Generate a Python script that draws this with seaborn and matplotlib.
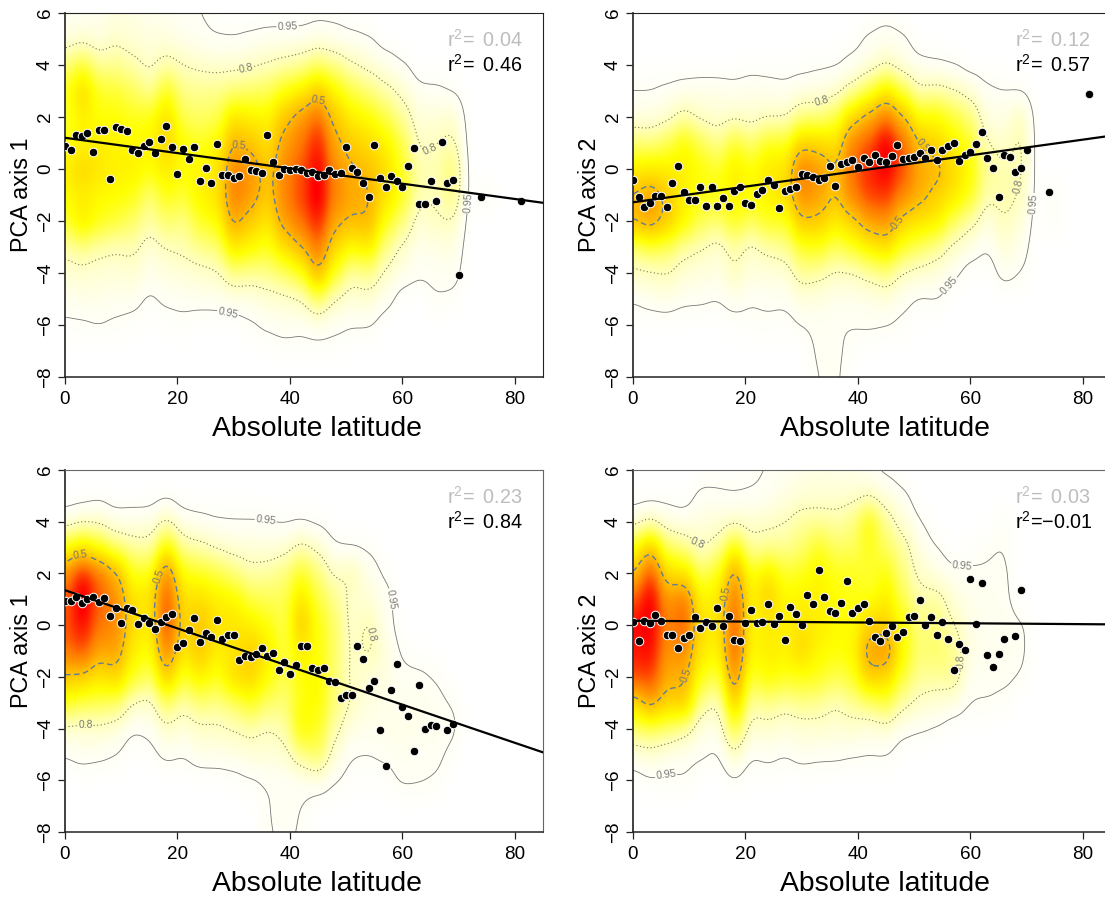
import numpy as np
import pandas as pd
import matplotlib
matplotlib.use("Agg")
import matplotlib.pyplot as plt
from matplotlib.colors import LinearSegmentedColormap
import seaborn as sns

# ---------- point data: integer latitudes and mean PCA scores ----------
lat_a = list(range(0, 71)) + [74, 81]
pts_1 = [0.9,0.75,1.3,1.28,1.4,0.65,1.5,1.5,-0.38,1.6,1.52,1.47,0.75,0.62,0.88,1.05,0.62,1.15,1.67,0.85,
         -0.18,0.78,0.38,0.85,-0.47,0.03,-0.53,0.97,-0.23,-0.23,-0.35,-0.27,0.4,-0.03,-0.07,-0.15,1.32,0.28,-0.22,0.0,
         -0.02,0.0,-0.02,-0.17,-0.1,-0.27,-0.23,-0.03,-0.18,-0.15,0.85,0.03,-0.1,-0.55,-1.08,0.92,-0.35,-0.68,-0.27,-0.47,
         -0.68,0.12,0.8,-1.35,-1.35,-0.47,-1.23,1.05,-0.55,-0.42,-4.08,-1.08,-1.22]
pts_2 = [-0.42,-1.07,-1.45,-1.3,-1.03,-1.03,-1.45,-0.53,0.12,-0.88,-1.2,-1.2,-0.68,-1.42,-0.68,-1.42,-1.1,-1.42,-0.85,-0.68,
         -1.3,-1.38,-0.95,-0.8,-0.42,-0.6,-1.5,-0.85,-0.77,-0.68,-0.18,-0.22,-0.3,-0.42,-0.35,0.12,-0.65,0.2,0.27,0.35,
         0.08,0.43,0.27,0.55,0.3,0.27,0.5,0.93,0.38,0.43,0.47,0.62,0.43,0.73,0.35,0.73,0.88,1.0,0.3,0.55,
         0.65,0.97,1.43,0.43,0.03,-1.08,0.55,0.47,-0.12,0.03,0.73,-0.88,2.9]
lat_b = list(range(0, 67)) + [68, 69]
pts_3 = [0.95,0.93,1.07,0.85,1.03,1.07,0.9,1.05,0.37,0.65,0.1,0.68,0.57,0.05,0.28,0.1,-0.13,0.13,0.33,0.42,
         -0.83,-0.68,-0.2,0.28,-0.65,-0.3,-0.47,0.2,-0.55,-0.4,-0.4,-1.33,-1.2,-1.25,-1.1,-0.9,-1.18,-1.07,-1.72,-1.42,
         -1.9,-1.53,-0.8,-0.8,-1.67,-1.75,-1.67,-2.15,-2.18,-2.83,-2.72,-2.72,-0.8,-1.3,-2.45,-2.15,-4.07,-5.45,-2.5,-1.5,
         -3.17,-3.5,-4.85,-2.3,-4.03,-3.87,-3.9,-4.07,-3.83]
pts_4 = [0.13,-0.6,0.17,0.1,0.4,0.17,-0.37,-0.37,-0.87,-0.5,-0.4,0.3,-0.1,0.13,-0.02,0.67,-0.03,0.37,-0.57,-0.6,
         0.1,0.58,0.1,0.13,0.83,0.05,0.37,-0.57,0.72,0.43,0.02,1.17,0.83,2.13,1.08,0.55,0.48,0.85,1.7,0.47,
         0.67,0.82,0.15,-0.45,-0.6,-0.3,-0.03,-0.45,-0.27,0.32,0.35,0.97,0.02,0.32,-0.37,0.13,-0.53,-1.72,-0.72,-0.95,
         1.78,0.05,1.62,-1.15,-1.6,-1.1,-0.53,-0.42,1.37]

# ---------- fitted lines, values at latitude 0 and 85 ----------
line_lat = [0, 85]
line_1 = [1.2, -1.3]
line_2 = [-1.28, 1.28]
line_3 = [1.35, -4.92]
line_4 = [0.17, 0.03]

# ---------- density: one column per 3 degrees, y = 6 ... -8 ----------
grid_lat = list(range(0, 78, 3))
grid_y = list(range(6, -9, -1))
dens_1 = [
 [4,6,20,30,28,30,40,34,28,14,8,5,2,0,0],
 [4,8,28,48,38,36,48,38,42,18,9,6,2,0,0],
 [4,7,16,30,32,38,42,34,32,14,8,6,3,0,0],
 [7,10,18,28,34,36,38,34,28,12,8,5,2,0,0],
 [6,8,14,24,30,36,38,32,22,14,9,5,1,0,0],
 [5,7,10,16,32,36,34,20,15,8,5,2,0,0,0],
 [4,8,14,32,44,48,40,32,22,12,7,4,1,0,0],
 [3,5,12,18,24,34,34,28,18,14,8,4,2,0,0],
 [3,4,10,18,22,30,36,38,30,18,9,5,0,0,0],
 [1,3,9,18,24,34,40,42,34,20,10,5,0,0,0],
 [0,3,9,20,42,58,70,72,62,42,18,6,0,0,0],
 [0,4,10,22,38,52,66,64,50,36,16,6,2,0,0],
 [0,5,12,24,36,42,50,50,40,30,18,8,4,0,0],
 [0,5,14,32,52,62,68,70,64,44,22,9,5,1,0],
 [0,5,16,38,64,72,78,82,74,56,30,10,4,1,0],
 [1,6,22,50,76,90,96,100,90,74,58,22,5,1,0],
 [1,5,18,36,50,60,66,70,60,45,30,10,4,1,0],
 [0,4,12,26,38,50,58,60,56,34,14,8,3,0,0],
 [0,3,9,20,34,44,54,58,58,40,18,9,3,0,0],
 [0,0,6,14,26,38,44,44,32,18,10,5,0,0,0],
 [0,0,3,10,16,26,30,32,20,10,6,0,0,0,0],
 [0,0,0,4,8,10,14,14,8,5,4,0,0,0,0],
 [0,0,0,4,8,12,14,12,12,6,4,3,0,0,0],
 [0,0,0,2,10,14,22,20,12,7,5,2,0,0,0],
 [0,0,0,0,0,0,0,0,0,0,0,0,0,0,0],
 [0,0,0,0,0,0,0,4,0,0,0,0,0,0,0],
]
dens_2 = [
 [0,0,0,3,6,20,36,52,55,18,10,3,0,0,0],
 [0,0,0,3,6,18,38,60,62,24,10,5,0,0,0],
 [0,0,0,4,8,24,36,48,50,22,12,6,0,0,0],
 [0,0,0,5,14,34,36,36,36,14,8,4,0,0,0],
 [0,0,0,6,9,24,32,30,24,12,7,4,0,0,0],
 [0,0,0,6,8,16,28,32,20,8,6,3,0,0,0],
 [0,0,0,5,9,28,38,36,30,14,12,5,1,0,0],
 [0,0,1,6,8,20,32,34,22,9,7,3,2,0,0],
 [0,0,1,5,10,30,40,36,30,14,7,4,2,0,0],
 [0,0,1,4,10,28,40,42,28,16,7,4,1,0,0],
 [0,0,1,6,18,46,70,66,50,28,16,7,3,0,0],
 [0,0,2,6,18,44,62,60,48,30,14,6,4,4,3],
 [0,0,2,8,24,40,50,50,38,22,10,5,3,4,4],
 [0,1,4,14,44,68,72,68,46,28,10,5,3,2,0],
 [0,4,6,24,56,76,84,80,60,36,14,5,4,0,0],
 [1,5,10,38,70,95,92,82,64,42,18,7,3,0,0],
 [0,4,6,24,52,72,78,66,44,28,10,4,2,0,0],
 [0,0,4,12,32,50,58,56,40,22,8,2,0,0,0],
 [0,0,3,14,34,44,56,46,38,16,7,3,0,0,0],
 [0,0,2,12,26,36,44,40,22,9,4,0,0,0,0],
 [0,0,0,8,20,28,34,30,14,6,0,0,0,0,0],
 [0,0,0,4,6,12,16,14,6,3,0,0,0,0,0],
 [0,0,0,3,6,9,13,15,12,8,5,0,0,0,0],
 [0,0,0,2,12,14,14,12,8,5,3,0,0,0,0],
 [0,0,0,0,0,0,0,0,0,0,0,0,0,0,0],
 [0,0,0,0,0,0,0,3,3,0,0,0,0,0,0],
]
dens_3 = [
 [0,0,5,30,68,75,78,72,50,30,8,3,0,0,0],
 [0,0,8,40,90,100,92,80,48,25,8,5,0,0,0],
 [0,1,9,30,74,76,72,60,40,24,9,4,0,0,0],
 [0,0,5,20,58,66,68,62,48,22,7,3,0,0,0],
 [0,0,6,16,30,42,44,38,30,10,3,0,0,0,0],
 [0,0,6,14,30,42,36,32,22,8,4,1,0,0,0],
 [0,1,12,36,70,80,84,70,50,22,10,4,0,0,0],
 [0,0,5,16,32,42,46,40,28,14,7,3,0,0,0],
 [0,0,4,14,30,44,52,52,38,20,10,6,0,0,0],
 [0,0,3,10,26,38,42,38,30,18,10,6,0,0,0],
 [0,0,3,8,20,36,42,40,46,22,12,6,1,0,0],
 [0,0,3,8,14,26,38,50,48,30,14,8,2,0,0],
 [0,0,3,7,16,24,32,40,34,22,11,8,3,3,3],
 [0,0,2,8,20,24,24,26,24,20,14,9,3,4,3],
 [0,0,2,14,30,42,52,38,32,32,36,18,4,3,3],
 [0,0,1,10,20,26,32,32,36,34,30,24,6,0,0],
 [0,0,0,3,10,18,22,22,20,20,14,8,3,0,0],
 [0,0,0,2,14,9,9,10,10,12,6,3,1,0,0],
 [0,0,0,2,6,8,14,14,8,7,5,3,1,0,0],
 [0,0,0,0,2,5,5,8,7,5,6,4,1,0,0],
 [0,0,0,0,0,0,0,2,4,5,6,5,4,0,0],
 [0,0,0,0,0,0,0,1,4,5,6,3,4,0,0],
 [0,0,0,0,0,0,0,0,3,4,5,4,3,0,0],
 [0,0,0,0,0,0,0,0,0,3,4,2,0,0,0],
 [0,0,0,0,0,0,0,0,0,0,0,0,0,0,0],
 [0,0,0,0,0,0,0,0,0,0,0,0,0,0,0],
]
dens_4 = [
 [0,0,6,30,50,75,90,85,80,40,20,6,0,0,0],
 [0,0,10,50,80,95,92,90,80,60,22,8,2,0,0],
 [0,1,6,22,42,62,66,62,56,46,20,5,2,0,0],
 [0,0,5,18,40,72,76,66,56,50,14,4,3,0,0],
 [1,4,7,10,22,36,40,40,30,16,6,4,0,0,0],
 [2,3,8,14,30,38,38,34,24,10,5,2,0,0,0],
 [1,3,8,34,60,72,78,76,66,48,26,10,2,0,0],
 [2,3,9,14,30,36,32,34,26,14,8,3,0,0,0],
 [3,4,10,16,40,48,38,38,34,18,9,4,1,0,0],
 [4,6,12,16,28,34,36,36,30,14,7,3,0,0,0],
 [5,8,16,20,30,36,40,46,30,18,8,5,0,0,0],
 [6,8,16,30,36,36,38,34,30,16,9,4,0,0,0],
 [5,9,14,22,30,32,34,32,24,12,8,4,0,0,0],
 [5,9,18,22,30,30,32,34,28,16,9,3,0,0,0],
 [3,10,34,30,26,30,46,62,48,20,6,3,0,0,0],
 [1,7,16,22,32,38,46,66,44,26,8,3,0,0,0],
 [0,4,8,16,18,24,32,34,26,14,4,0,0,0,0],
 [0,0,3,6,10,14,18,20,16,10,3,0,0,0,0],
 [0,0,0,3,6,16,20,22,16,8,2,0,0,0,0],
 [0,0,0,0,4,8,12,18,18,6,0,0,0,0,0],
 [0,0,0,1,4,5,6,6,4,3,0,0,0,0,0],
 [0,0,0,3,3,5,4,5,4,3,0,0,0,0,0],
 [0,0,3,3,4,4,5,5,4,2,0,0,0,0,0],
 [0,0,0,0,0,0,4,4,3,0,0,0,0,0,0],
 [0,0,0,0,0,0,0,0,0,0,0,0,0,0,0],
 [0,0,0,0,0,0,0,0,0,0,0,0,0,0,0],
]

# ---------- density value of each contour (labelled 0.95, 0.8, 0.5) per panel ----------
levels_1 = [3.0, 12.0, 56.0]
levels_2 = [3.0, 12.0, 50.0]
levels_3 = [3.0, 12.0, 52.0]
levels_4 = [3.0, 12.0, 52.0]

# ---------- text ----------
ylabels = ["PCA axis 1", "PCA axis 2", "PCA axis 1", "PCA axis 2"]
r2_grey = ["0.04", "0.12", "0.23", "0.03"]
r2_black = ["0.46", "0.57", "0.84", "\u22120.01"]
x_label = "Absolute latitude"
x_ticks = [0, 20, 40, 60, 80]
y_ticks = [-8, -6, -4, -2, 0, 2, 4, 6]
label_95 = [[(39.6, 5.4), (28, -6.5), (75.5, -1.35)], [(52.7, -3.8), (74.5, -1.4)],
            [(35.4, 3.4), (58, 1.0)], [(5.5, -5.3), (58.5, 2.2)]]
label_80 = [[(32.5, 3.6), (66.5, 0.3)], [(33.5, 2.6), (66, -0.55)],
            [(3.6, -3.4), (53.7, -0.4)], [(9.3, 2.5), (58.5, -1.4)]]
label_50 = [[(31.5, 1.25), (45, 2.6)], [(44, -1.6), (52, 1.0)],
            [(2.5, 2.9), (18, 1.8)], [(6.5, -1.7), (17, 1.2)]]

sns.set_theme(style="ticks")
plt.rcParams["font.family"] = ["Liberation Sans", "DejaVu Sans"]
plt.rcParams["mathtext.default"] = "regular"
plt.rcParams["mathtext.fontset"] = "custom"
plt.rcParams["mathtext.rm"] = "Liberation Sans"

heat = LinearSegmentedColormap.from_list("heat", [
    (0.00, "#FFFFFF"), (0.05, "#FFFFF0"), (0.15, "#FFFFB0"), (0.36, "#FFFF00"),
    (0.58, "#FFC000"), (0.78, "#FF7800"), (1.00, "#FF0000")])

W, H = 1105, 898
fig = plt.figure(figsize=(W / 100, H / 100), dpi=100)
rects = [(65, 13, 478, 364), (633, 13, 478, 364), (65, 470, 478, 362), (633, 470, 478, 362)]


def smooth(columns, h_lat=1.5, h_y=0.62):
    """Kernel smoothing of the coarse density table on to a fine raster."""
    vals = np.array(columns, float)
    fx = np.linspace(0, 85, 341)
    fy = np.linspace(-8, 6, 281)
    kx = np.exp(-0.5 * ((fx[:, None] - np.array(grid_lat)) / h_lat) ** 2)
    ky = np.exp(-0.5 * ((fy[:, None] - np.array(grid_y)) / h_y) ** 2)
    kx = np.hstack([kx, np.exp(-0.5 * ((fx[:, None] - 78.0) / h_lat) ** 2)])
    vals = np.vstack([vals, np.zeros(vals.shape[1])])
    num = ky @ vals.T @ kx.T
    den = np.outer(ky.sum(1), kx.sum(1))
    return fx, fy, num / den


panels = [(lat_a, pts_1, line_1, dens_1, levels_1), (lat_a, pts_2, line_2, dens_2, levels_2),
          (lat_b, pts_3, line_3, dens_3, levels_3), (lat_b, pts_4, line_4, dens_4, levels_4)]

for i, (lat, pts, line, dens, levels) in enumerate(panels):
    l, t, w, h = rects[i]
    ax = fig.add_axes([l / W, 1 - (t + h) / H, w / W, h / H])
    fx, fy, field = smooth(dens)
    ax.imshow(field, origin="lower", extent=(0, 85, -8, 6), aspect="auto", cmap=heat,
              vmin=0, vmax=field.max(), interpolation="bilinear", zorder=0)
    ax.set_xlim(0, 85)
    ax.set_ylim(-8, 6)
    styles = [("0.95", levels[0], "solid", "#777777", 0.6, label_95[i]),
              ("0.8", levels[1], (0, (1, 2.2)), "#777755", 0.8, label_80[i]),
              ("0.5", levels[2], (0, (4, 2.5)), "#5F7C99", 1.0, label_50[i])]
    for name, lev, ls, col, lw, manual in styles:
        cs = ax.contour(fx, fy, field, levels=[lev], colors=[col],
                        linestyles=[ls], linewidths=lw, zorder=1)
        ax.clabel(cs, fmt={cs.levels[0]: name}, manual=manual, fontsize=7.5,
                  colors="#777777", inline=True, inline_spacing=1)
    frame = pd.DataFrame({"lat": lat, "score": pts})
    sns.scatterplot(data=frame, x="lat", y="score", ax=ax, color="black", s=38,
                    edgecolor="white", linewidth=0.7, zorder=3, clip_on=True)
    sns.lineplot(x=line_lat, y=line, ax=ax, color="black", linewidth=1.6, zorder=4)
    ax.set_xlim(0, 85)
    ax.set_ylim(-8, 6)
    ax.set_xticks(x_ticks)
    ax.set_yticks(y_ticks)
    ax.set_yticklabels([str(v).replace("-", "\u2212") for v in y_ticks],
                       rotation=90, va="center")
    ax.tick_params(axis="both", labelsize=13.6, length=5, width=0.9, color="#222222",
                   labelcolor="black")
    ax.tick_params(axis="x", pad=5)
    ax.tick_params(axis="y", pad=3)
    ax.set_xlabel(x_label, fontsize=20.4, labelpad=6, color="black")
    ax.xaxis.label.set_x(0.528)
    ax.set_ylabel(ylabels[i], fontsize=16.8, color="black")
    ax.yaxis.set_label_coords(-0.067, 0.5)
    for side in ("top", "right"):
        ax.spines[side].set_visible(True)
        ax.spines[side].set_linewidth(0.8)
        ax.spines[side].set_color("#222222" if i < 2 else "#666666")
    ax.spines["left"].set_linewidth(1.3)
    ax.spines["left"].set_color("#333333")
    ax.spines["bottom"].set_linewidth(1.1)
    ax.spines["bottom"].set_color("#222222")
    ax.text(68, 4.97, "r$^{2}$= \u2009" + r2_grey[i], color="#BDBDBD", fontsize=14.2, va="center", ha="left", zorder=5)
    ax.text(68, 4.0, ("r$^{2}$=" if i == 3 else "r$^{2}$= \u2009") + r2_black[i], color="black", fontsize=14.2,
            va="center", ha="left", zorder=5)

fig.savefig("out.png", dpi=100)
